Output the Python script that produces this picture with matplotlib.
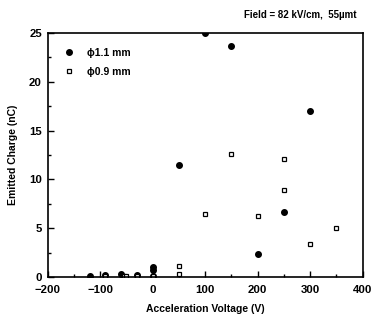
import matplotlib
matplotlib.use("Agg")
import matplotlib.pyplot as plt
from matplotlib.ticker import MultipleLocator

plt.rcParams['font.family'] = ['Liberation Sans', 'DejaVu Sans']
plt.rcParams['font.weight'] = 'bold'

# phi 1.1 mm (filled circles)
v_11 = [-120, -90, -60, -30, 0, 0, 0, 50, 100, 150, 200, 250, 300]
q_11 = [0.1, 0.2, 0.3, 0.2, 1.0, 0.7, 0.15, 11.5, 25.0, 23.7, 2.4, 6.7, 17.0]
# phi 0.9 mm (open squares)
v_09 = [-90, -55, -50, -30, 0, 50, 50, 100, 150, 200, 250, 250, 300, 350]
q_09 = [0.15, 0.15, 0.1, 0.15, 0.1, 1.1, 0.3, 6.5, 12.6, 6.3, 12.1, 8.9, 3.4, 5.0]

fig = plt.figure(figsize=(3.77, 3.24), dpi=100)
ax = fig.add_axes([0.126, 0.145, 0.836, 0.753])

ax.plot(v_11, q_11, 'o', color='black', markersize=4.0, linestyle='none', label='ϕ1.1 mm')
ax.plot(v_09, q_09, 's', markerfacecolor='white', markeredgecolor='black', markersize=3.2,
        markeredgewidth=0.9, linestyle='none', label='ϕ0.9 mm')

ax.set_xlim(-200, 400)
ax.set_ylim(0, 25)
ax.xaxis.set_major_locator(MultipleLocator(100))
ax.xaxis.set_minor_locator(MultipleLocator(50))
ax.yaxis.set_major_locator(MultipleLocator(5))
ax.yaxis.set_minor_locator(MultipleLocator(2.5))
ax.tick_params(which='both', direction='in', labelsize=8.2, width=1)
ax.tick_params(which='major', length=4)
ax.tick_params(which='minor', length=2)
ax.tick_params(axis='x', pad=6)
ax.tick_params(axis='y', pad=4)
for lab in ax.get_xticklabels() + ax.get_yticklabels():
    lab.set_fontweight('bold')
for s in ax.spines.values():
    s.set_linewidth(1.2)

ax.set_xlabel('Acceleration Voltage (V)', fontsize=7.5, fontweight='bold', labelpad=6)
ax.set_ylabel('Emitted Charge (nC)', fontsize=7.5, fontweight='bold', labelpad=8)

leg = ax.legend(loc='upper left', frameon=False, fontsize=7.5, handletextpad=1.2,
                borderaxespad=1.0, labelspacing=0.9, handlelength=1.0,
                bbox_to_anchor=(0.005, 1.0))
for t in leg.get_texts():
    t.set_fontweight('bold')

fig.text(0.945, 0.955, 'Field = 82 kV/cm,  55µmt', ha='right', va='center',
         fontsize=7, fontweight='bold')

fig.savefig('out.png', dpi=100)
